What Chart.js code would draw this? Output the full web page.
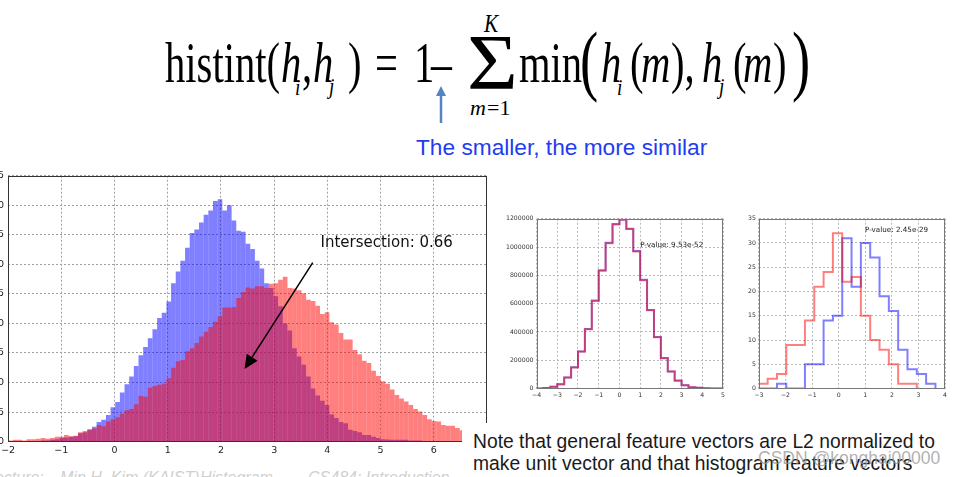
<!DOCTYPE html>
<html><head><meta charset="utf-8">
<script src="https://cdn.jsdelivr.net/npm/chart.js@4.4.1/dist/chart.umd.min.js"></script>
<style>
html,body{margin:0;padding:0;background:#fff;}
body{width:956px;height:477px;overflow:hidden;position:relative;}
.wrap{position:absolute;left:0;top:0;}
.wrap canvas{display:block;}
.t{position:absolute;white-space:nowrap;line-height:1;transform-origin:0 0;}
</style></head><body>
<div id="wMain" class="wrap"><canvas id="cMain" width="540" height="300"></canvas></div>
<div id="wMid" class="wrap"><canvas id="cMid" width="240" height="210"></canvas></div>
<div id="wRight" class="wrap"><canvas id="cRight" width="240" height="210"></canvas></div>
<div id="layer"></div>
<script>
// ================= DATA =================
// main histogram (density), bins of equal width starting at mainBinStart
const mainBinStart = -2.0;
const mainBinWidth = 0.0875;
const mainRed = [
0.002,0.003,0.003,0.002,0.004,0.004,0.005,0.006,0.005,0.006,
0.008,0.008,0.011,0.009,0.010,0.016,0.018,0.021,0.022,0.028,
0.026,0.034,0.038,0.041,0.047,0.053,0.055,0.063,0.077,0.076,
0.091,0.094,0.096,0.098,0.107,0.125,0.136,0.138,0.153,0.158,
0.167,0.178,0.186,0.194,0.203,0.212,0.227,0.227,0.228,0.243,
0.253,0.261,0.259,0.263,0.263,0.260,0.267,0.268,0.274,0.279,
0.260,0.259,0.256,0.251,0.240,0.238,0.230,0.216,0.219,0.202,
0.198,0.184,0.173,0.173,0.155,0.148,0.137,0.133,0.120,0.111,
0.102,0.098,0.088,0.079,0.073,0.068,0.062,0.055,0.051,0.045,
0.038,0.035,0.034,0.028,0.027,0.027,0.023,0.019];
const mainBlue = [
0,0,0,0.001,0.001,0.001,0.001,0.002,0.002,0.003,
0.004,0.006,0.007,0.008,0.009,0.014,0.016,0.020,0.025,0.033,
0.037,0.045,0.058,0.067,0.083,0.097,0.110,0.128,0.146,0.160,
0.175,0.190,0.209,0.218,0.237,0.268,0.288,0.306,0.328,0.353,
0.359,0.371,0.384,0.391,0.407,0.410,0.391,0.400,0.374,0.357,
0.355,0.335,0.326,0.306,0.293,0.268,0.260,0.246,0.229,0.200,
0.188,0.158,0.144,0.130,0.110,0.090,0.078,0.069,0.062,0.046,
0.040,0.033,0.031,0.020,0.018,0.016,0.011,0.011,0.008,0.006,
0.004,0.0035,0.003,0.003,0.003,0.003,0.002,0.002,0.002,0.001,
0.001,0.001,0.001,0.001,0,0,0,0];
const mainXRange = [-2, 7];
const mainYRange = [0, 0.45];
const mainYStep = 0.05;
const mainLabel = "Intersection: 0.66";
const mainLabelAt = [3.87, 0.329];
const mainArrowFrom = [3.725, 0.303];
const mainArrowTo = [2.444, 0.123];

// middle step histogram (counts)
const midBinStart = -4;
const midBinWidth = 1/3;
const midRed  = [1000,4000,12000,30000,78000,148000,261000,419000,619000,833000,1026000,1160000,1195000,1127000,969000,765000,553000,362000,214000,120000,56000,23000,9000,5000,2000,1000,500];
const midBlue = [1000,4000,13000,31000,79000,150000,262000,421000,622000,836000,1030000,1162000,1193000,1130000,972000,768000,555000,364000,216000,121000,57000,23000,9000,5000,2000,1000,500];
const midXRange = [-4, 5];
const midYRange = [0, 1200000];
const midYStep = 200000;
const midLabel = "P-value: 9.53e-52";
const midLabelAt = [1.0, 1016000];

// right step histogram (counts)
const rightBinStart = -3.02;
const rightBinWidth = 0.3505;
const rightRed  = [1,2,3,9,9,14,21,24,32,22,23,15,10,8,5,1,1];
const rightBlue = [0,0,1,0,0,5,5,14,15,31,21,30,27,19,16,8,4,3,1];
const rightXRange = [-3, 4];
const rightYRange = [0, 35];
const rightYStep = 5;
const rightLabel = "P-value: 2.45e-29";
const rightLabelAt = [0.99, 32.7];

// ================= HELPERS =================
const RED = 'rgba(255,0,0,0.5)', BLUE = 'rgba(0,0,255,0.5)';
const minus = v => (v < 0 ? '\u2212' + Math.abs(v) : String(v));
function barPoints(start, w, vals){ return vals.map((v,i)=>({x:start+(i+0.5)*w, y:v})); }
function stepPoints(start, w, vals){
  const p=[{x:start,y:0}];
  vals.forEach((v,i)=>p.push({x:start+i*w,y:v}));
  p.push({x:start+vals.length*w,y:0});
  return p;
}
const framePlugin = {
  id:'frame',
  afterDatasetsDraw(chart){
    const a=chart.chartArea, ctx=chart.ctx;
    ctx.save(); ctx.strokeStyle=chart.$frameColor||'#444'; ctx.lineWidth=1;
    const l=Math.round(a.left)+0.5, t=Math.round(a.top)+0.5, r=Math.round(a.right)-0.5, b=Math.round(a.bottom)-0.5;
    ctx.strokeRect(l,t,r-l,b-t); ctx.restore();
  }
};
function notesPlugin(items){
  return {id:'notes', afterDraw(chart){
    const ctx=chart.ctx, xs=chart.scales.x, ys=chart.scales.y;
    items.forEach(it=>{
      ctx.save();
      if(it.kind==='text'){
        ctx.font=it.font; ctx.fillStyle=it.color; ctx.textAlign='left'; ctx.textBaseline=it.baseline;
        ctx.fillText(it.text, xs.getPixelForValue(it.at[0]), ys.getPixelForValue(it.at[1]));
      } else {
        const x0=xs.getPixelForValue(it.from[0]), y0=ys.getPixelForValue(it.from[1]);
        const x1=xs.getPixelForValue(it.to[0]), y1=ys.getPixelForValue(it.to[1]);
        const ang=Math.atan2(y1-y0,x1-x0), L=it.head, W=it.headW/2;
        const bx=x1-L*Math.cos(ang), by=y1-L*Math.sin(ang);
        ctx.strokeStyle=it.color; ctx.fillStyle=it.color; ctx.lineWidth=it.width;
        ctx.beginPath(); ctx.moveTo(x0,y0); ctx.lineTo(bx,by); ctx.stroke();
        ctx.beginPath(); ctx.moveTo(x1,y1);
        ctx.lineTo(bx-W*Math.sin(ang), by+W*Math.cos(ang));
        ctx.lineTo(bx+W*Math.sin(ang), by-W*Math.cos(ang));
        ctx.closePath(); ctx.fill();
      }
      ctx.restore();
    });
  }};
}
function axes(xr, yr, ystep, tickFont, tickColor, gridColor, padX, padY, yFmt){
  return {
    x:{type:'linear',min:xr[0],max:xr[1],offset:false,
       grid:{offset:false,color:gridColor,drawTicks:false,lineWidth:1},
       border:{display:false,dash:[2,2]},
       ticks:{stepSize:1,padding:padX,color:tickColor,font:tickFont,maxRotation:0,autoSkip:false,callback:v=>minus(v)}},
    y:{type:'linear',min:yr[0],max:yr[1],
       grid:{color:gridColor,drawTicks:false,lineWidth:1},
       border:{display:false,dash:[2,2]},
       ticks:{stepSize:ystep,padding:padY,color:tickColor,font:tickFont,autoSkip:false,callback:yFmt}}
  };
}
const baseOpts = {responsive:false,maintainAspectRatio:false,animation:false,devicePixelRatio:1,events:[],
  layout:{padding:0}, plugins:{legend:{display:false},tooltip:{enabled:false}}};
function place(chart, wrapId, box){
  for(let i=0;i<5;i++){
    const a=chart.chartArea;
    const dw=(box[2]-box[0])-(a.right-a.left), dh=(box[3]-box[1])-(a.bottom-a.top);
    if(Math.abs(dw)<0.5&&Math.abs(dh)<0.5)break;
    chart.resize(Math.round(chart.width+dw), Math.round(chart.height+dh));
  }
  const a=chart.chartArea, w=document.getElementById(wrapId);
  w.style.left=Math.round(box[0]-a.left)+'px'; w.style.top=Math.round(box[1]-a.top)+'px';
}

// ================= CHARTS =================
const mainChart = new Chart(document.getElementById('cMain'), {
  type:'bar',
  data:{datasets:[
    {data:barPoints(mainBinStart,mainBinWidth,mainRed), backgroundColor:RED},
    {data:barPoints(mainBinStart,mainBinWidth,mainBlue), backgroundColor:BLUE}
  ]},
  options:Object.assign({}, baseOpts, {
    datasets:{bar:{barPercentage:1,categoryPercentage:1,grouped:false,borderWidth:0,inflateAmount:0}},
    scales:axes(mainXRange, mainYRange, mainYStep, {family:'DejaVu Sans',size:9.5}, '#222', '#a0a0a0', 3, 4, v=>v.toFixed(2))
  }),
  plugins:[framePlugin, notesPlugin([
    {kind:'text', text:mainLabel, at:mainLabelAt, font:'15px "DejaVu Sans"', color:'#111', baseline:'alphabetic'},
    {kind:'arrow', from:mainArrowFrom, to:mainArrowTo, color:'#000', width:1.5, head:14, headW:13}
  ])]
});
mainChart.$frameColor='#333';
place(mainChart,'wMain',[8,176,487,442]);

function stepChart(id, red, blue, start, w, xr, yr, ystep, label, at){
  const ch = new Chart(document.getElementById(id), {
    type:'line',
    data:{datasets:[
      {data:stepPoints(start,w,red), borderColor:RED, borderWidth:2, stepped:'before', pointRadius:0, fill:false, tension:0},
      {data:stepPoints(start,w,blue), borderColor:BLUE, borderWidth:2, stepped:'before', pointRadius:0, fill:false, tension:0}
    ]},
    options:Object.assign({}, baseOpts, {
      scales:axes(xr, yr, ystep, {family:'DejaVu Sans',size:6.2}, '#333', '#b8b8b8', 3, 3, v=>String(v))
    }),
    plugins:[framePlugin, notesPlugin([
      {kind:'text', text:label, at:at, font:'7.2px "DejaVu Sans"', color:'#222', baseline:'middle'}
    ])]
  });
  ch.$frameColor='#777';
  return ch;
}
const midChart = stepChart('cMid', midRed, midBlue, midBinStart, midBinWidth, midXRange, midYRange, midYStep, midLabel, midLabelAt);
place(midChart,'wMid',[537,219,723,389]);
const rightChart = stepChart('cRight', rightRed, rightBlue, rightBinStart, rightBinWidth, rightXRange, rightYRange, rightYStep, rightLabel, rightLabelAt);
place(rightChart,'wRight',[759,219,945,389]);

// ================= TEXT LAYER =================
const layer=document.getElementById('layer');
function put(text, x, baseline, size, family, ratio, extra){
  const d=document.createElement('div'); d.className='t'; d.textContent=text;
  d.style.left=x+'px'; d.style.top=(baseline-ratio*size)+'px';
  d.style.fontSize=size+'px'; d.style.fontFamily=family;
  Object.assign(d.style, extra||{});
  layer.appendChild(d); return d;
}
const SERIF='"Liberation Serif","Times New Roman",serif', SR=0.8375;
const SANS='"Liberation Sans",Arial,sans-serif', SA=0.8465;
// formula tokens: text, left, baseline, size, italic, scaleX
const formula=[
 ["histint(",165,83,58,0,0.7],
 ["h",281,83,58,1,0.7],["i",295,95,24,1,0.8],
 [",",302,83,58,0,0.7],
 ["h",313,83,58,1,0.7],["j",329,94,24,1,0.8],
 [")",348,83,58,0,0.7],
 ["=",375,83,58,0,0.7],
 ["1",414,83,58,0,0.7],
 ["\u2013",431,83,58,0,0.72],
 ["\u03A3",467,88,78,0,1.12],
 ["K",484,32,25,1,0.85],
 ["m",470,115,22,1,1],["=1",487,115,22,0,1],
 ["min",519,83,58,0,0.7],
 ["(",580,86,78,0,0.7],
 ["h",601,83,58,1,0.7],["i",617,95,24,1,0.8],
 ["(",630,83,58,0,0.7],["m",641,83,58,1,0.7],["),",671,83,58,0,0.7],
 ["h",702,83,58,1,0.7],["j",719,94,24,1,0.8],
 ["(",733,83,58,0,0.7],["m",743,83,58,1,0.7],[")",773,83,58,0,0.7],
 [")",792,86,78,0,0.7]
];
formula.forEach(f=>put(f[0],f[1],f[2],f[3],SERIF,SR,{fontStyle:f[4]?'italic':'normal',transform:'scaleX('+f[5]+')',color:'#000'}));
put("The smaller, the more similar",416,155,22.7,SANS,SA,{color:'#1f3cf0'});
// footer (cut off at the bottom)
put("Lecture:",-14,484,16,SANS,SA,{fontStyle:'italic',color:'#cfcfcf'});
put("Min H. Kim (KAIST)",60,484,16,SANS,SA,{fontStyle:'italic',color:'#cfcfcf'});
put("Histogram",200,484,16,SANS,SA,{fontStyle:'italic',color:'#cfcfcf'});
put("CS484: Introduction",308,484,16,SANS,SA,{fontStyle:'italic',color:'#cfcfcf'});
// white note box over the lower right corner
const box=document.createElement('div');
Object.assign(box.style,{position:'absolute',left:'462px',top:'423px',width:'494px',height:'54px',background:'#fff'});
layer.appendChild(box);
put("Note that general feature vectors are L2 normalized to",473,448,19.3,SANS,SA,{color:'#1a1a1a'});
put("make unit vector and that histogram feature vectors",473,470,19.3,SANS,SA,{color:'#1a1a1a'});
put("CSDN @konghai00000",758,465,17.5,SANS,SA,{color:'rgba(150,150,150,0.75)'});
// blue arrow
const svgNS='http://www.w3.org/2000/svg';
const svg=document.createElementNS(svgNS,'svg');
svg.setAttribute('width','956'); svg.setAttribute('height','477');
svg.style.position='absolute'; svg.style.left='0'; svg.style.top='0';
svg.innerHTML='<line x1="441" y1="123" x2="441" y2="95" stroke="#5585c0" stroke-width="2.5"/><polygon points="441,86 436,96 446,96" fill="#5585c0"/>';
layer.appendChild(svg);
</script>
</body></html>
